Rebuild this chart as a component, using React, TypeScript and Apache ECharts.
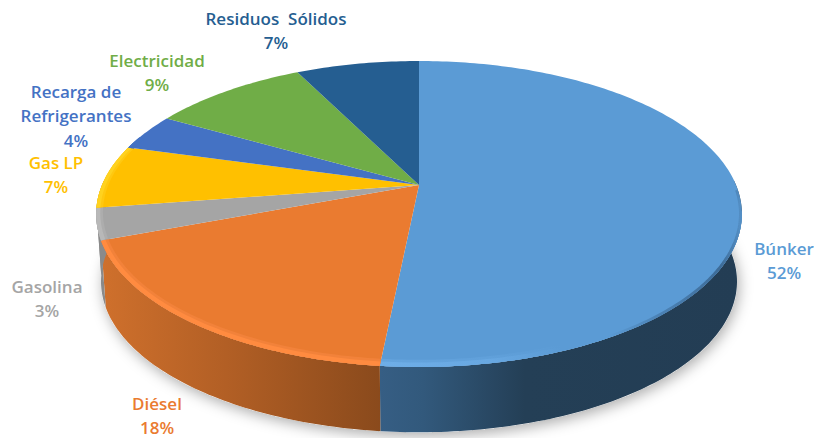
import React, { useEffect, useRef } from "react";
import * as echarts from "echarts";

const categories = ["Búnker", "Diésel", "Gasolina", "Gas LP", "Recarga de\nRefrigerantes", "Electricidad", "Residuos  Sólidos"];
const values = [51.6, 17.7, 3.3, 6.7, 3.9, 9.4, 7.4];
const colors = ["#5b9bd5", "#ea7b30", "#a5a5a5", "#ffc000", "#4472c4", "#70ad47", "#255e91"];
const labelAnchors = [[784, 236], [157, 391], [47, 274], [56, 150], [76, 79], [157, 48], [276, 6]];

const CX = 419, CY = 185, A = 147.5, B = 317, P = 0.1895, DEPTH = 68, BOTTOM_SCALE = 0.985;
const total = values.reduce((s, v) => s + v, 0);
const starts: number[] = [];
values.reduce((s, v, i) => { starts[i] = s; return s + (v / total) * 360; }, 0);
const ends = values.map((v, i) => starts[i] + (v / total) * 360);

const proj = (deg: number, ku = 1, kv = 1): [number, number] => {
  const t = (deg * Math.PI) / 180;
  const u = Math.sin(t) * ku, v = -Math.cos(t) * kv;
  const w = 1 - P * v;
  return [CX + (B * u) / w, CY + (A * v) / w];
};
const bottom = (deg: number): [number, number] => {
  const [x, y] = proj(deg);
  return [CX + (x - CX) * BOTTOM_SCALE, CY + (y - CY) * BOTTOM_SCALE + DEPTH];
};
const arc = (a0: number, a1: number, f: (d: number) => [number, number]) => {
  const pts: [number, number][] = [];
  const n = Math.max(1, Math.ceil(Math.abs(a1 - a0)));
  for (let i = 0; i <= n; i++) pts.push(f(a0 + ((a1 - a0) * i) / n));
  return pts;
};
const grad = (stops: [number, string][]) =>
  new echarts.graphic.LinearGradient(0, 0, 1, 0, stops.map(([offset, color]) => ({ offset, color })));

const wallFills: any[] = [
  grad([[0, "#365e84"], [0.12, "#32597c"], [0.4, "#243f56"], [1, "#233d54"]]),
  grad([[0, "#cf702c"], [0.45, "#b25f25"], [1, "#8a4a1c"]]),
  "#8a8a8a", "#8a8a8a", "#314f8a", "#4f7a32", "#1b4366",
];
const bevelWide: any[] = [
  grad([[0, "#64a4de"], [0.3, "#60a0da"], [0.5, "#5b9bd5"], [1, "#5b9bd5"]]),
  "#f2823a",
  "#adadad", "#ffc810", "#4472c4", "#70ad47", "#255e91",
];
const bevelNarrow: any[] = [
  grad([[0, "#6eaee8"], [0.3, "#68a8e2"], [0.5, "#5b9bd5"], [1, "#5b9bd5"]]),
  "#ff8b40",
  "#b8b8b8", "#ffd21f", "#4472c4", "#70ad47", "#255e91",
];
const rimShade = grad([[0, "rgba(50,90,130,0)"], [0.4, "rgba(50,90,130,0.4)"], [0.85, "rgba(40,75,110,0.6)"], [1, "rgba(40,75,110,0.15)"]]);

const NEAR0 = 88, NEAR1 = 272;

export default function App() {
  const ref = useRef<HTMLDivElement>(null);
  useEffect(() => {
    document.body.style.margin = "0";
    const chart = echarts.init(ref.current!, null, { renderer: "svg" });
    const data = values.map((v, i) => ({ name: categories[i], value: v }));
    chart.setOption({
      animation: false,
      backgroundColor: "#ffffff",
      series: [
        {
          type: "custom",
          coordinateSystem: "none",
          silent: true,
          data: [1],
          renderItem: () => ({
            type: "polygon",
            shape: { points: arc(0, 360, bottom) },
            style: { fill: "#ffffff", shadowBlur: 14, shadowColor: "rgba(0,0,0,0.32)", shadowOffsetY: 4, shadowOffsetX: 2 },
          }),
        },
        {
          type: "custom",
          coordinateSystem: "none",
          silent: true,
          data,
          renderItem: (params: any) => {
            const i = params.dataIndex;
            const a0 = Math.max(starts[i], NEAR0), a1 = Math.min(ends[i], NEAR1);
            if (a1 <= a0) return { type: "group", children: [] };
            return {
              type: "polygon",
              shape: { points: [...arc(a0, a1, proj), ...arc(a1, a0, bottom)] },
              style: { fill: wallFills[i] },
            };
          },
        },
        {
          type: "custom",
          coordinateSystem: "none",
          silent: true,
          data,
          renderItem: (params: any) => {
            const i = params.dataIndex;
            const children: any[] = [
              {
                type: "polygon",
                shape: { points: [[CX, CY], ...arc(starts[i], ends[i], proj)] },
                style: { fill: colors[i] },
              },
            ];
            const a0 = Math.max(starts[i], 100), a1 = Math.min(ends[i], 290);
            if (a1 > a0) {
              const strip = (ku: number, kv: number, fill: any) => ({
                type: "polygon",
                shape: { points: [...arc(a0, a1, proj), ...arc(a1, a0, (d: number) => proj(d, ku, kv))] },
                style: { fill },
              });
              children.push(strip(0.98, 0.968, bevelWide[i]), strip(0.988, 0.98, bevelNarrow[i]));
            }
            if (i === 0) {
              children.push({
                type: "polyline",
                shape: { points: arc(92, 150, (d) => proj(d, 0.996, 0.996)) },
                style: { fill: "none", stroke: rimShade, lineWidth: 3 },
              });
            }
            return { type: "group", children };
          },
        },
        {
          type: "custom",
          coordinateSystem: "none",
          silent: true,
          data,
          renderItem: (params: any) => {
            const i = params.dataIndex;
            const [x, y] = labelAnchors[i];
            return {
              type: "text",
              style: {
                x,
                y,
                text: `${categories[i]}\n${Math.round((values[i] / total) * 100)}%`,
                fill: colors[i],
                font: '600 17px "Open Sans", sans-serif',
                lineHeight: 24.5,
                align: "center",
                verticalAlign: "top",
              },
            };
          },
        },
      ],
    });
    return () => chart.dispose();
  }, []);
  return <div ref={ref} style={{ position: "absolute", left: 0, top: 0, width: 814, height: 438 }} />;
}
